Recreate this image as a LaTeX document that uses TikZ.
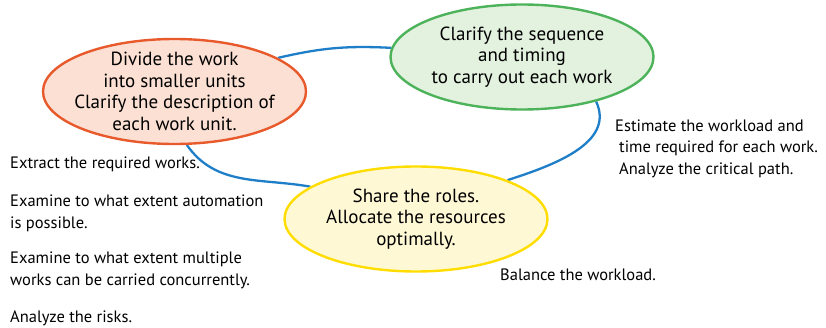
\documentclass[tikz,border=0pt]{standalone}
\usepackage{fontspec}
\setmainfont{PT Sans}
\usepackage{xcolor}
\usepackage{tikz}
\usetikzlibrary{shapes.geometric, positioning, backgrounds}
\definecolor{redline}{HTML}{E85A2C}
\definecolor{redfill}{HTML}{FBE0D3}
\definecolor{greenline}{HTML}{4DB35A}
\definecolor{greenfill}{HTML}{E3F1DF}
\definecolor{yellowline}{HTML}{FFDD00}
\definecolor{yellowfill}{HTML}{FFF8D5}
\definecolor{loopblue}{HTML}{1E7FC8}
\tikzstyle{bubble} = [ellipse, minimum width=263pt, minimum height=105pt, inner sep=-12pt, line width=2.4pt, align=center, font=\fontsize{19}{21.5}\selectfont]
\tikzstyle{note} = [inner sep=0pt, align=left, anchor=base west, font=\fontsize{16.5}{22}\selectfont]
\tikzstyle{loop} = [line width=2.3pt, draw=loopblue]

\begin{document}
\begin{tikzpicture}[x=1pt, y=1pt]
\useasboundingbox (0,0) rectangle (826,327);

\node (divide) [bubble, draw=redline, fill=redfill] at (174.5,235.5) {Divide the work\\into smaller units\\Clarify the description of\\each work unit.};
\node (clarify) [bubble, draw=greenline, fill=greenfill] at (522,270) {Clarify the sequence\\and timing\\to carry out each work};
\node (share) [bubble, draw=yellowline, fill=yellowfill] at (416,108) {Share the roles.\\Allocate the resources\\optimally.};

\node (extract) [note] at (10,159) {Extract the required works.};
\node (automation) [note] at (10,99) {Examine to what extent automation\\is possible.};
\node (concurrent) [note] at (10,41.3) {Examine to what extent multiple\\works can be carried concurrently.};
\node (risks) [note] at (10,4.3) {Analyze the risks.};
\node (estimate) [note, font=\fontsize{16.5}{21.2}\selectfont] at (615,153) {Estimate the workload and\\\hspace{4pt}time required for each work.\\\hspace{4pt}Analyze the critical path.};
\node (balance) [note] at (500,47) {Balance the workload.};

% cycle behind the bubbles
\begin{scope}[on background layer]
\draw [loop] (divide.18) to[bend left=8] (clarify.176);
\draw [loop] (clarify.-31) to[out=-65, in=18] (share.23);
\draw [loop] (share.163) to[out=170, in=-55] (divide.-77);
\end{scope}

\end{tikzpicture}
\end{document}
